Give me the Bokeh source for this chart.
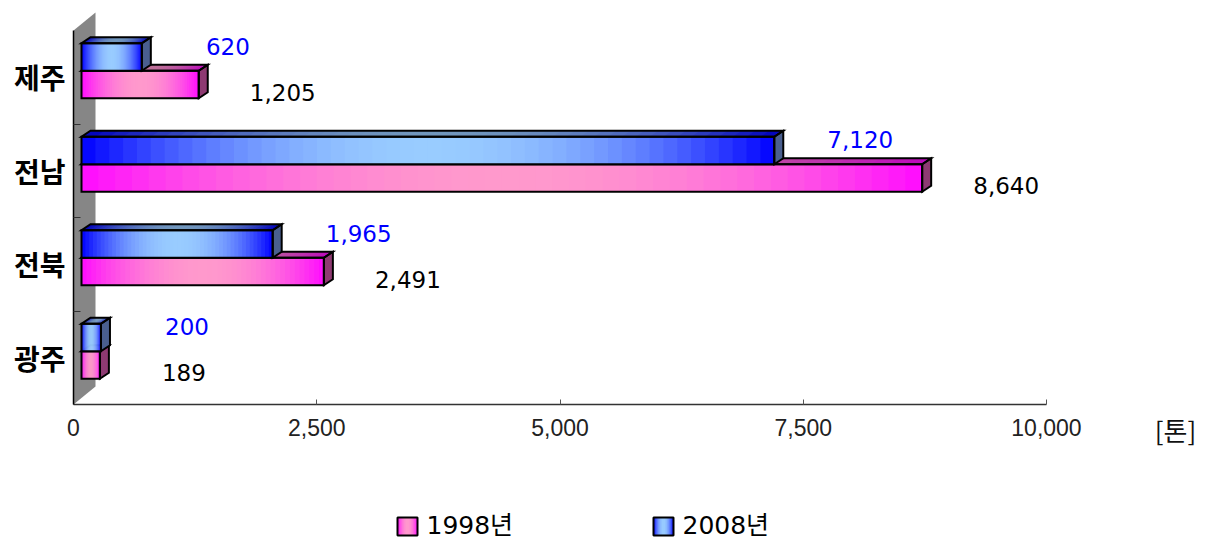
import numpy as np
from bokeh.plotting import figure
from bokeh.models import Range1d, FixedTicker, NumeralTickFormatter, Div
from bokeh.layouts import column, row
from bokeh.embed import file_html
from bokeh.resources import INLINE
from bokeh.core.properties import value

# ---------------- data ----------------
categories = ["광주", "전북", "전남", "제주"]          # bottom -> top
v1998 = [189, 2491, 8640, 1205]
v2008 = [200, 1965, 7120, 620]
series_names = ["1998년", "2008년"]
x_ticks = [0, 2500, 5000, 7500, 10000]
unit_label = "[톤]"

# ---------------- layout (px) ----------------
MAIN_W = 1130
SIDE_W = 75
MAIN_H = 449
LEG_H = 92
FRAME_L, FRAME_T, FRAME_B = 73, 10, 45
FRAME_W = MAIN_W - FRAME_L
FRAME_H = MAIN_H - FRAME_T - FRAME_B
AXIS_PX = 973.0      # pixels spanned by 0..10000
BAND_PX = 93.5       # pixels per category band
XMAX = x_ticks[-1]
ux = XMAX / AXIS_PX
uy = 1.0 / BAND_PX
NCAT = len(categories)

# 3D geometry (px)
WALL_DX, WALL_DY = 22, 18
BAR_OX, BAR_OY = 8, 6.5
BAR_DX, BAR_DY = 9, 6
BAR_H = 27.5

PINK_EDGE, PINK_MID = (255, 10, 255), (255, 153, 204)
BLUE_EDGE, BLUE_MID = (0, 0, 255), (153, 204, 255)
PINK_SIDE, BLUE_SIDE = "#8E3A72", "#4A5F8F"
TOP_K = 0.74
SANS = "DejaVu Sans, Noto Sans CJK KR"


def grad(edge, mid, t, k=1.0):
    f = 1 - (2 * t - 1) ** 2
    c = [min(255, max(0, int(round((e + (m - e) * f) * k)))) for e, m in zip(edge, mid)]
    return "#%02x%02x%02x" % tuple(c)


p = figure(width=MAIN_W, height=MAIN_H, output_backend="svg", toolbar_location=None,
           x_range=Range1d(0, FRAME_W * ux), y_range=Range1d(0, FRAME_H * uy),
           min_border_left=FRAME_L, min_border_right=0, min_border_top=FRAME_T,
           min_border_bottom=FRAME_B)
p.grid.visible = False
p.outline_line_color = None

# back wall
wx, wy = WALL_DX * ux, WALL_DY * uy
p.patch([0, 0, wx, wx], [0, NCAT, NCAT + wy, wy], fill_color="#868686", line_color=None)


def add_bars(vals, lower, edge, mid, side_color):
    fl, fr, fb, ft, fc = [], [], [], [], []
    txs, tys, tc = [], [], []
    sxs, sys_ = [], []
    oxs, oys = [], []
    dx, dy = BAR_DX * ux, BAR_DY * uy
    N = 50
    for i, v in enumerate(vals):
        c = i + 0.5
        base = c + BAR_OY * uy
        y0 = base - BAR_H * uy if lower else base
        y1 = y0 + BAR_H * uy
        x0 = BAR_OX * ux
        x1 = x0 + v
        e = np.linspace(x0, x1, N + 1)
        for j in range(N):
            t = (j + 0.5) / N
            r = e[min(j + 2, N)]
            fl.append(e[j]); fr.append(r); fb.append(y0); ft.append(y1)
            fc.append(grad(edge, mid, t))
            txs.append([e[j], r, r + dx, e[j] + dx])
            tys.append([y1, y1, y1 + dy, y1 + dy])
            tc.append(grad(edge, mid, t, TOP_K))
        sxs.append([x1, x1 + dx, x1 + dx, x1]); sys_.append([y0, y0 + dy, y1 + dy, y1])
        oxs += [[x0, x1, x1, x0], [x0, x1, x1 + dx, x0 + dx]]
        oys += [[y0, y0, y1, y1], [y1, y1, y1 + dy, y1 + dy]]
    p.quad(left=fl, right=fr, bottom=fb, top=ft, fill_color=fc, line_color=None)
    p.patches(txs, tys, fill_color=tc, line_color=None)
    p.patches(sxs, sys_, fill_color=side_color, line_color="black", line_width=2, line_join="miter")
    p.patches(oxs, oys, fill_color=None, line_color="black", line_width=2, line_join="miter")


add_bars(v1998, True, PINK_EDGE, PINK_MID, PINK_SIDE)
add_bars(v2008, False, BLUE_EDGE, BLUE_MID, BLUE_SIDE)

# value labels
cy = [i + 0.5 for i in range(NCAT)]
p.text(x=v2008, y=[c + 31 * uy for c in cy], text=[f"{v:,}" for v in v2008],
       x_offset=BAR_OX + 86, text_align="center", text_baseline="middle",
       text_font=value("DejaVu Sans"), text_font_size="23px", text_color="#0000FF")
p.text(x=v1998, y=[c - 15 * uy for c in cy], text=[f"{v:,}" for v in v1998],
       x_offset=BAR_OX + 84, text_align="center", text_baseline="middle",
       text_font=value("DejaVu Sans"), text_font_size="23px", text_color="black")

# axes
xa = p.xaxis[0]
xa.ticker = FixedTicker(ticks=x_ticks)
xa.formatter = NumeralTickFormatter(format="0,0")
xa.bounds = (0, XMAX)
xa.axis_line_color = "#333333"
xa.axis_line_width = 1.5
xa.major_tick_in = 5
xa.major_tick_out = 0
xa.major_tick_line_color = "#555555"
xa.minor_tick_line_color = None
xa.major_label_standoff = 14
xa.major_label_text_font = "Liberation Sans"
xa.major_label_text_font_size = "23px"
xa.major_label_text_color = "#222222"

ya = p.yaxis[0]
ya.ticker = FixedTicker(ticks=cy, minor_ticks=[1, 2, 3])
ya.major_label_overrides = {c: cat for c, cat in zip(cy, categories)}
ya.bounds = (0, NCAT)
ya.axis_line_color = "black"
ya.axis_line_width = 1.5
ya.major_tick_in = 0
ya.major_tick_out = 0
ya.minor_tick_in = 7
ya.minor_tick_out = 0
ya.minor_tick_line_color = "#333333"
ya.major_label_standoff = 8
ya.major_label_text_font = "Noto Sans CJK KR"
ya.major_label_text_font_style = "bold"
ya.major_label_text_font_size = "28px"
ya.major_label_text_color = "black"

# ---------------- unit label (right strip) ----------------
side = Div(text=unit_label, width=SIDE_W, height=MAIN_H,
           styles={"padding-top": "415px", "padding-left": "16px", "text-align": "center",
                   "box-sizing": "border-box",
                   "font-family": "'Noto Sans CJK KR'", "font-size": "26px",
                   "line-height": "30px", "color": "#111111", "margin": "0"})

# ---------------- legend figure ----------------
lg = figure(width=MAIN_W + SIDE_W, height=LEG_H, output_backend="svg", toolbar_location=None,
            x_axis_type=None, y_axis_type=None,
            x_range=Range1d(0, MAIN_W + SIDE_W), y_range=Range1d(LEG_H, 0), min_border=0)
lg.grid.visible = False
lg.outline_line_color = None

LEG_X = [397, 653]
SQ_W, SQ_T, SQ_B = 20, 68, 86
for k, (edge, mid) in enumerate([(PINK_EDGE, PINK_MID), (BLUE_EDGE, BLUE_MID)]):
    n = 10
    e = np.linspace(LEG_X[k], LEG_X[k] + SQ_W, n + 1)
    cols = [grad(edge, mid, (j + 0.5) / n) for j in range(n)]
    lg.quad(left=e[:-1], right=[e[min(j + 2, n)] for j in range(n)], bottom=[SQ_B] * n,
            top=[SQ_T] * n, fill_color=cols, line_color=None)
    lg.quad(left=[LEG_X[k]], right=[LEG_X[k] + SQ_W], bottom=[SQ_B], top=[SQ_T],
            fill_color=None, line_color="black", line_width=2)
lg.text(x=[x + 29 for x in LEG_X], y=[(SQ_T + SQ_B) / 2 - 1] * 2, text=series_names,
        text_align="left", text_baseline="middle", text_font=value(SANS),
        text_font_size="25px", text_color="black")

layout = column(row(p, side, spacing=0), lg, spacing=0)
open("out.html", "w").write(file_html(layout, INLINE))
